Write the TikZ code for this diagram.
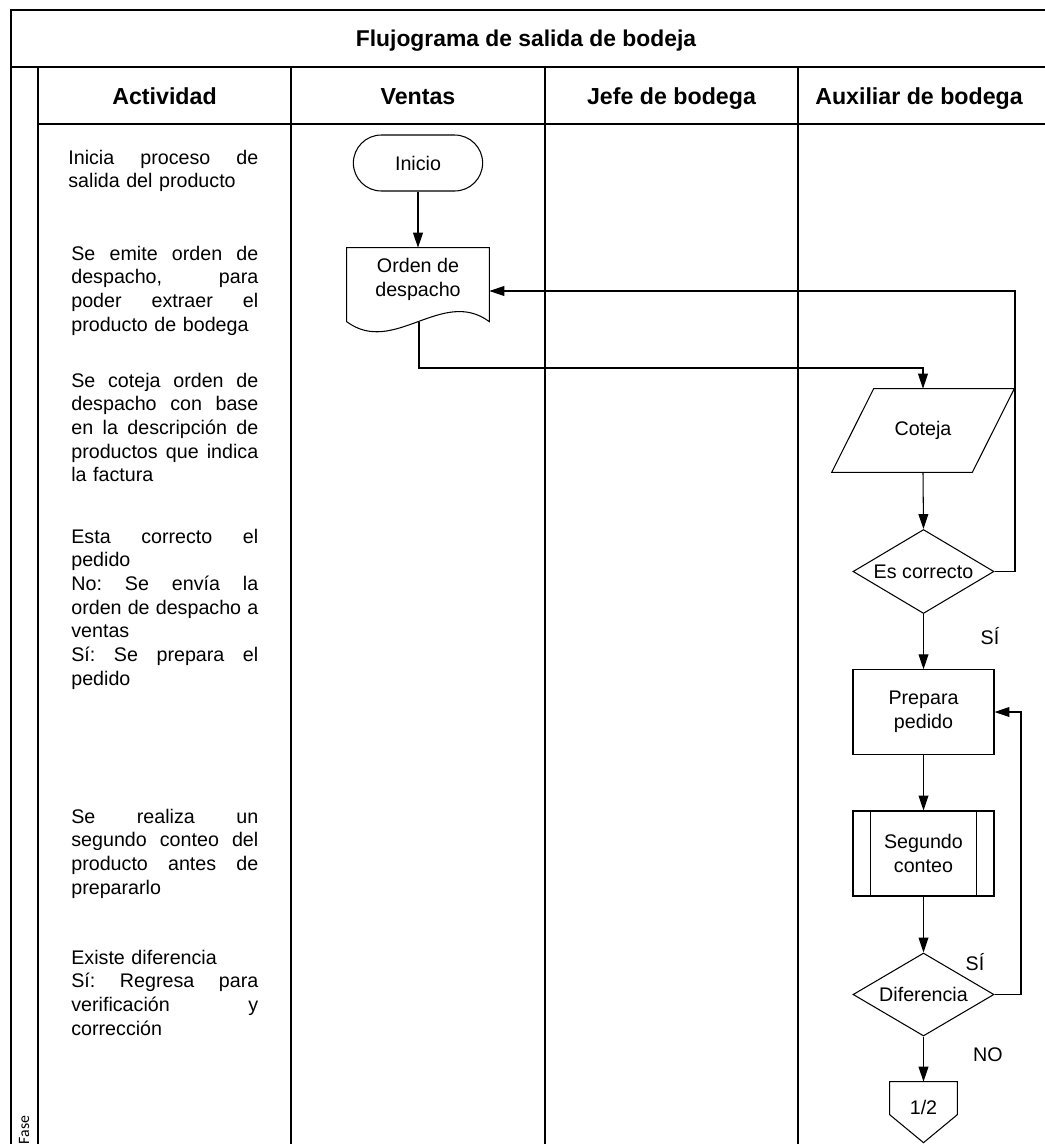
\documentclass[tikz,border=0pt]{standalone}
\usepackage{fontspec}
\setmainfont{Liberation Sans}
\newfontfamily\fasefont{Carlito}
\usetikzlibrary{shapes.geometric,shapes.misc,arrows.meta,calc}
\newlength\actw
\setlength\actw{3.74cm}
% one justified line of given width: inter-word spaces stretch to fill it
\newcommand\jlw[2]{\leavevmode\hbox to #1{\spaceskip=0.278em plus 1fil\xspaceskip=0.278em plus 1fil #2}}
\newcommand\jl[1]{\jlw{\actw}{#1}}
\begin{document}
\begin{tikzpicture}[x=0.02cm,y=-0.02cm,
  frame/.style={line width=1.1pt},
  thin/.style={line width=0.6pt},
  arr/.style={thin,-{Triangle[length=8.5pt,width=5.6pt]}},
  body/.style={font=\fontsize{11.2}{13.5}\selectfont},
  act/.style={body,anchor=base west,inner sep=0pt,text width=\actw,align=left},
  hdr/.style={font=\fontsize{13.2}{15}\selectfont\bfseries,anchor=base},
  term/.style={rounded rectangle,draw,thin,minimum width=2.82cm,minimum height=1.12cm,body},
  procbox/.style={rectangle,draw,thin,minimum width=2.82cm,minimum height=1.69cm,body,align=center,inner sep=0pt},
  decision/.style={diamond,draw,thin,minimum width=2.82cm,minimum height=1.68cm,body,inner sep=0pt,aspect=1.6},
  ghost/.style={rectangle,inner sep=0pt,body,align=center},
  lbl/.style={body}
]
\useasboundingbox (0,0) rectangle (1045,1144);
\clip (0,0) rectangle (1045,1144);

% table frame
\draw[frame] (11,10) rectangle (1050,1170);
\draw[frame] (11,67) -- (1050,67);
\draw[frame] (38,124) -- (1050,124);
\draw[frame] (38,67) -- (38,1170);
\draw[frame] (291,67) -- (291,1170);
\draw[frame] (545,67) -- (545,1170);
\draw[frame] (798,67) -- (798,1170);

% titles
\node[font=\fontsize{13}{15}\selectfont\bfseries,anchor=base] (titulo) at (526,46) {Flujograma de salida de bodeja};
\node[hdr] (hact) at (164.5,104) {Actividad};
\node[hdr] (hven) at (418,104) {Ventas};
\node[hdr] (hjef) at (671.5,104) {Jefe de bodega};
\node[hdr] (haux) at (919,104) {Auxiliar de bodega};
\node[font=\fasefont\fontsize{9}{10}\selectfont,rotate=90] (fase) at (24,1130) {Fase};

% activity descriptions
\node[act,text width=3.8cm] (a1) at (68,164) {\jlw{3.8cm}{Inicia proceso de}\\salida del producto};
\node[act] (a2) at (71,260) {\jl{Se emite orden de}\\\jl{despacho, para}\\\jl{poder extraer el}\\producto de bodega};
\node[act] (a3) at (71,387) {\jl{Se coteja orden de}\\\jl{despacho con base}\\\jl{en la descripción de}\\\jl{productos que indica}\\la factura};
\node[act] (a4) at (71,543) {\jl{Esta correcto el}\\pedido\\\jl{No: Se envía la}\\\jl{orden de despacho a}\\ventas\\\jl{Sí: Se prepara el}\\pedido};
\node[act] (a5) at (71,823) {\jl{Se realiza un}\\\jl{segundo conteo del}\\\jl{producto antes de}\\prepararlo};
\node[act] (a6) at (71,964) {Existe diferencia\\\jl{Sí: Regresa para}\\\jl{verificación y}\\corrección};

% flow shapes
\node[term] (inicio) at (418,163) {Inicio};

\node[ghost,minimum width=2.84cm,minimum height=1.72cm] (orden) at (418,291) {};
\draw[thin] (orden.north west) -- (orden.north east) -- ($(orden.north east)+(0,74)$)
  .. controls ($(orden.north east)+(-47,39)$) and ($(orden.north west)+(47,109)$) .. ($(orden.north west)+(0,74)$) -- cycle;
\node[ghost] (ordentxt) at ($(orden.center)+(0,-11.5)$) {Orden de\\despacho};
\coordinate (ordenpie) at ($(orden.north)+(1,74)$);

\node[ghost,minimum width=3.64cm,minimum height=1.66cm] (coteja) at (923,430.5) {Coteja};
\draw[thin] ($(coteja.north west)+(42,0)$) -- (coteja.north east) -- ($(coteja.south east)+(-42,0)$) -- (coteja.south west) -- cycle;

\node[decision] (escorrecto) at (923.5,571.5) {Es correcto};
\node[procbox] (prepara) at (923.5,712) {Prepara\\pedido};
\node[procbox,minimum height=1.7cm] (segundo) at (923.5,853.5) {Segundo\\conteo};
\draw[thin] ($(segundo.north west)+(18,0)$) -- ($(segundo.south west)+(18,0)$);
\draw[thin] ($(segundo.north east)+(-18,0)$) -- ($(segundo.south east)+(-18,0)$);
\node[decision,minimum height=1.66cm] (diferencia) at (923.5,994.5) {Diferencia};

\node[ghost,minimum width=1.34cm,minimum height=1.0cm] (conector) at (923.5,1107) {1/2};
\draw[thin] (conector.north west) -- (conector.north east) -- ($(conector.north east)+(0,33)$)
  -- ($(conector.north)+(0,61)$) -- ($(conector.north west)+(0,33)$) -- cycle;

% branch labels
\node[lbl] (si1) at (990,636) {SÍ};
\node[lbl] (si2) at (975,962) {SÍ};
\node[lbl] (no1) at (988,1055) {NO};

% connectors
\coordinate (giro) at (0,368);
\coordinate (lazo1) at (1015,0);
\coordinate (lazo2) at (1021,0);
\draw[arr] (inicio.south) -- (orden.north);
\draw[arr] (ordenpie) -- (ordenpie |- giro) -| (coteja.north);
\draw[arr] (coteja.south) -- (escorrecto.north);
\draw[arr] (escorrecto.east) -| (lazo1 |- orden.east) -- (orden.east);
\draw[arr] (escorrecto.south) -- (prepara.north);
\draw[arr] (prepara.south) -- (segundo.north);
\draw[arr] (segundo.south) -- (diferencia.north);
\draw[arr] (diferencia.east) -| (lazo2 |- prepara.east) -- (prepara.east);
\draw[arr] (diferencia.south) -- (conector.north);
\end{tikzpicture}
\end{document}
